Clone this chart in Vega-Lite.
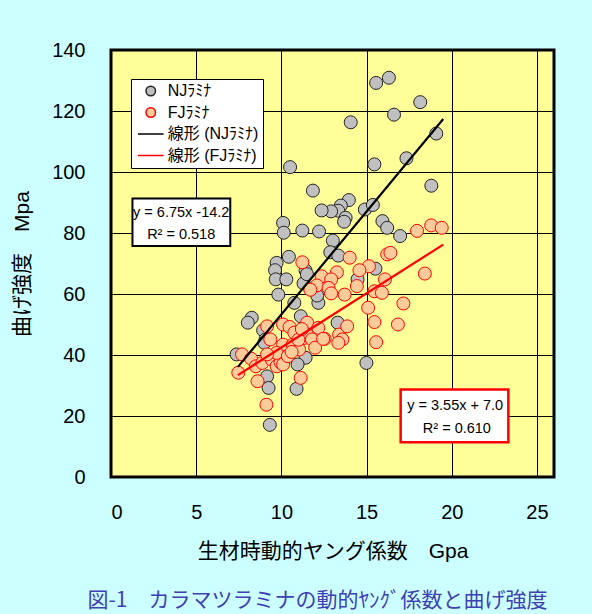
{
  "$schema": "https://vega.github.io/schema/vega-lite/v6.json",
  "width": 443,
  "height": 427,
  "autosize": "none",
  "padding": {"left": 111, "top": 50, "right": 38, "bottom": 137},
  "background": "#ccffff",
  "config": {
    "font": "Liberation Sans, Noto Sans CJK JP",
    "view": {"fill": "#ffff99", "stroke": "#000000", "strokeWidth": 3},
    "axis": {
      "grid": true, "gridColor": "#000000", "gridOpacity": 1, "gridWidth": 1,
      "domain": false, "ticks": false,
      "labelFont": "Liberation Sans", "labelFontSize": 20, "labelColor": "#000000",
      "titleFont": "Liberation Sans, Noto Sans CJK JP", "titleFontSize": 21, "titleFontWeight": "normal", "titleColor": "#000000"
    },
    "legend": {
      "orient": "none", "legendX": 20, "legendY": 29,
      "fillColor": "#ffffff", "strokeColor": "#000000", "padding": 4,
      "labelFont": "Liberation Sans, Noto Sans CJK JP", "labelFontSize": 16, "labelColor": "#000000",
      "symbolSize": 90, "symbolOffset": 7.75, "labelOffset": 9, "rowPadding": 5.5
    }
  },
  "title": {
    "text": "図-1　カラマツラミナの動的ﾔﾝｸﾞ係数と曲げ強度",
    "orient": "bottom", "anchor": "middle", "fontSize": 21, "fontWeight": "normal",
    "font": "Noto Sans CJK JP", "color": "#4040b4", "offset": 29, "dx": -15
  },
  "layer": [
    {
      "data": {"values": [
        {"series":"NJﾗﾐﾅ","x":15.56,"y":129.2},{"series":"NJﾗﾐﾅ","x":16.31,"y":130.9},{"series":"NJﾗﾐﾅ","x":18.15,"y":122.9},
        {"series":"NJﾗﾐﾅ","x":16.61,"y":118.8},{"series":"NJﾗﾐﾅ","x":14.07,"y":116.3},{"series":"NJﾗﾐﾅ","x":19.09,"y":112.6},
        {"series":"NJﾗﾐﾅ","x":10.51,"y":101.6},{"series":"NJﾗﾐﾅ","x":15.46,"y":102.5},{"series":"NJﾗﾐﾅ","x":17.34,"y":104.5},
        {"series":"NJﾗﾐﾅ","x":18.8,"y":95.5},{"series":"NJﾗﾐﾅ","x":11.85,"y":93.9},{"series":"NJﾗﾐﾅ","x":13.96,"y":90.8},
        {"series":"NJﾗﾐﾅ","x":13.49,"y":89.0},{"series":"NJﾗﾐﾅ","x":13.34,"y":87.3},{"series":"NJﾗﾐﾅ","x":12.92,"y":87.1},
        {"series":"NJﾗﾐﾅ","x":12.36,"y":87.4},{"series":"NJﾗﾐﾅ","x":13.77,"y":85.0},{"series":"NJﾗﾐﾅ","x":13.68,"y":83.7},
        {"series":"NJﾗﾐﾅ","x":14.9,"y":87.7},{"series":"NJﾗﾐﾅ","x":15.37,"y":89.2},{"series":"NJﾗﾐﾅ","x":10.1,"y":83.3},
        {"series":"NJﾗﾐﾅ","x":10.14,"y":80.1},{"series":"NJﾗﾐﾅ","x":11.23,"y":80.8},{"series":"NJﾗﾐﾅ","x":12.21,"y":80.5},
        {"series":"NJﾗﾐﾅ","x":13.02,"y":77.5},{"series":"NJﾗﾐﾅ","x":12.87,"y":73.7},{"series":"NJﾗﾐﾅ","x":13.34,"y":72.6},
        {"series":"NJﾗﾐﾅ","x":10.44,"y":72.2},{"series":"NJﾗﾐﾅ","x":9.72,"y":70.2},{"series":"NJﾗﾐﾅ","x":9.63,"y":67.8},
        {"series":"NJﾗﾐﾅ","x":11.42,"y":67.7},{"series":"NJﾗﾐﾅ","x":9.67,"y":64.8},{"series":"NJﾗﾐﾅ","x":10.29,"y":64.8},
        {"series":"NJﾗﾐﾅ","x":9.82,"y":59.8},{"series":"NJﾗﾐﾅ","x":14.47,"y":64.8},{"series":"NJﾗﾐﾅ","x":15.52,"y":68.3},
        {"series":"NJﾗﾐﾅ","x":15.93,"y":83.9},{"series":"NJﾗﾐﾅ","x":16.21,"y":81.7},{"series":"NJﾗﾐﾅ","x":16.97,"y":79.0},
        {"series":"NJﾗﾐﾅ","x":10.76,"y":57.1},{"series":"NJﾗﾐﾅ","x":12.17,"y":57.1},{"series":"NJﾗﾐﾅ","x":12.1,"y":59.5},
        {"series":"NJﾗﾐﾅ","x":8.26,"y":52.2},{"series":"NJﾗﾐﾅ","x":8.03,"y":50.6},{"series":"NJﾗﾐﾅ","x":8.93,"y":48.1},
        {"series":"NJﾗﾐﾅ","x":11.14,"y":52.7},{"series":"NJﾗﾐﾅ","x":13.3,"y":50.6},{"series":"NJﾗﾐﾅ","x":9.07,"y":45.1},
        {"series":"NJﾗﾐﾅ","x":9.0,"y":44.0},{"series":"NJﾗﾐﾅ","x":7.37,"y":40.2},{"series":"NJﾗﾐﾅ","x":11.42,"y":39.1},
        {"series":"NJﾗﾐﾅ","x":10.95,"y":36.9},{"series":"NJﾗﾐﾅ","x":9.16,"y":33.0},{"series":"NJﾗﾐﾅ","x":9.25,"y":29.2},
        {"series":"NJﾗﾐﾅ","x":10.89,"y":28.9},{"series":"NJﾗﾐﾅ","x":14.99,"y":37.4},{"series":"NJﾗﾐﾅ","x":9.32,"y":17.1},
        {"series":"NJﾗﾐﾅ","x":11.3,"y":63.5},{"series":"NJﾗﾐﾅ","x":11.5,"y":66.5},
        {"series":"FJﾗﾐﾅ","x":7.47,"y":34.2},{"series":"FJﾗﾐﾅ","x":7.69,"y":40.2},{"series":"FJﾗﾐﾅ","x":8.22,"y":38.8},
        {"series":"FJﾗﾐﾅ","x":8.6,"y":31.4},{"series":"FJﾗﾐﾅ","x":8.5,"y":36.3},{"series":"FJﾗﾐﾅ","x":8.88,"y":37.4},
        {"series":"FJﾗﾐﾅ","x":9.16,"y":49.4},{"series":"FJﾗﾐﾅ","x":9.35,"y":45.1},{"series":"FJﾗﾐﾅ","x":9.44,"y":38.5},
        {"series":"FJﾗﾐﾅ","x":9.72,"y":36.3},{"series":"FJﾗﾐﾅ","x":9.95,"y":37.6},{"series":"FJﾗﾐﾅ","x":10.1,"y":36.9},
        {"series":"FJﾗﾐﾅ","x":10.1,"y":43.4},{"series":"FJﾗﾐﾅ","x":10.1,"y":50.0},{"series":"FJﾗﾐﾅ","x":10.48,"y":49.2},
        {"series":"FJﾗﾐﾅ","x":10.67,"y":43.4},{"series":"FJﾗﾐﾅ","x":10.76,"y":47.3},{"series":"FJﾗﾐﾅ","x":11.04,"y":41.8},
        {"series":"FJﾗﾐﾅ","x":11.13,"y":32.5},{"series":"FJﾗﾐﾅ","x":11.33,"y":45.6},{"series":"FJﾗﾐﾅ","x":11.51,"y":50.6},
        {"series":"FJﾗﾐﾅ","x":11.51,"y":46.7},{"series":"FJﾗﾐﾅ","x":11.79,"y":45.1},{"series":"FJﾗﾐﾅ","x":11.98,"y":42.4},
        {"series":"FJﾗﾐﾅ","x":12.17,"y":48.9},{"series":"FJﾗﾐﾅ","x":12.54,"y":45.3},{"series":"FJﾗﾐﾅ","x":13.39,"y":46.7},
        {"series":"FJﾗﾐﾅ","x":13.58,"y":45.1},{"series":"FJﾗﾐﾅ","x":13.34,"y":44.0},{"series":"FJﾗﾐﾅ","x":13.86,"y":49.4},
        {"series":"FJﾗﾐﾅ","x":9.72,"y":40.7},{"series":"FJﾗﾐﾅ","x":10.38,"y":39.6},{"series":"FJﾗﾐﾅ","x":9.16,"y":40.2},
        {"series":"FJﾗﾐﾅ","x":15.09,"y":55.5},{"series":"FJﾗﾐﾅ","x":15.46,"y":50.8},{"series":"FJﾗﾐﾅ","x":15.56,"y":44.2},
        {"series":"FJﾗﾐﾅ","x":16.84,"y":50.0},{"series":"FJﾗﾐﾅ","x":17.16,"y":56.9},{"series":"FJﾗﾐﾅ","x":9.12,"y":23.7},
        {"series":"FJﾗﾐﾅ","x":11.23,"y":70.4},{"series":"FJﾗﾐﾅ","x":14.01,"y":71.9},{"series":"FJﾗﾐﾅ","x":15.14,"y":69.1},
        {"series":"FJﾗﾐﾅ","x":14.58,"y":67.8},{"series":"FJﾗﾐﾅ","x":13.26,"y":67.1},{"series":"FJﾗﾐﾅ","x":12.36,"y":65.8},
        {"series":"FJﾗﾐﾅ","x":12.92,"y":64.8},{"series":"FJﾗﾐﾅ","x":12.08,"y":62.8},{"series":"FJﾗﾐﾅ","x":12.77,"y":62.0},
        {"series":"FJﾗﾐﾅ","x":14.43,"y":62.6},{"series":"FJﾗﾐﾅ","x":16.08,"y":64.8},{"series":"FJﾗﾐﾅ","x":16.21,"y":73.0},
        {"series":"FJﾗﾐﾅ","x":16.4,"y":73.5},{"series":"FJﾗﾐﾅ","x":13.71,"y":59.8},{"series":"FJﾗﾐﾅ","x":12.92,"y":60.2},
        {"series":"FJﾗﾐﾅ","x":15.46,"y":60.9},{"series":"FJﾗﾐﾅ","x":15.9,"y":60.4},{"series":"FJﾗﾐﾅ","x":17.96,"y":80.7},
        {"series":"FJﾗﾐﾅ","x":18.79,"y":82.5},{"series":"FJﾗﾐﾅ","x":19.41,"y":81.7},{"series":"FJﾗﾐﾅ","x":18.42,"y":66.7},
        {"series":"FJﾗﾐﾅ","x":11.7,"y":61.4},{"series":"FJﾗﾐﾅ","x":11.0,"y":45.0},{"series":"FJﾗﾐﾅ","x":10.6,"y":41.0},
        {"series":"FJﾗﾐﾅ","x":11.2,"y":48.5},{"series":"FJﾗﾐﾅ","x":12.45,"y":45.3}
      ]},
      "mark": {"type": "point", "filled": true, "opacity": 1, "size": 169, "strokeWidth": 1},
      "encoding": {
        "x": {"field": "x", "type": "quantitative", "scale": {"domain": [0, 25]},
              "axis": {"values": [0, 5, 10, 15, 20, 25], "title": "生材時動的ヤング係数　Gpa", "labelPadding": 25, "titlePadding": 18}},
        "y": {"field": "y", "type": "quantitative", "scale": {"domain": [0, 140]},
              "axis": {"values": [0, 20, 40, 60, 80, 100, 120, 140], "title": "曲げ強度　Mpa", "labelPadding": 26, "titlePadding": 19}},
        "fill": {"field": "series", "type": "nominal",
                 "scale": {"domain": ["NJﾗﾐﾅ", "FJﾗﾐﾅ", "線形 (NJﾗﾐﾅ)", "線形 (FJﾗﾐﾅ)"], "range": ["#c0c0c0", "#ffcc99", "transparent", "transparent"]},
                 "legend": {"title": null, "encode": {"symbols": {"update": {"strokeWidth": {"signal": "indexof(datum.value, '線形') >= 0 ? 2.5 : 1"}}}}}},
        "stroke": {"field": "series", "type": "nominal",
                 "scale": {"domain": ["NJﾗﾐﾅ", "FJﾗﾐﾅ", "線形 (NJﾗﾐﾅ)", "線形 (FJﾗﾐﾅ)"], "range": ["#222222", "#ff0000", "#000000", "#ff0000"]},
                 "legend": {"title": null}},
        "shape": {"field": "series", "type": "nominal",
                 "scale": {"domain": ["NJﾗﾐﾅ", "FJﾗﾐﾅ", "線形 (NJﾗﾐﾅ)", "線形 (FJﾗﾐﾅ)"], "range": ["circle", "circle", "M-2.7,0L2.7,0", "M-2.7,0L2.7,0"]},
                 "legend": {"title": null}}
      }
    },
    {
      "data": {"values": [
        {"series": "線形 (NJﾗﾐﾅ)", "x": 7.45, "y": 36.1},
        {"series": "線形 (NJﾗﾐﾅ)", "x": 19.5, "y": 117.4},
        {"series": "線形 (FJﾗﾐﾅ)", "x": 7.45, "y": 33.4},
        {"series": "線形 (FJﾗﾐﾅ)", "x": 19.5, "y": 76.2}
      ]},
      "mark": {"type": "line", "strokeWidth": 2.2},
      "encoding": {
        "x": {"field": "x", "type": "quantitative"},
        "y": {"field": "y", "type": "quantitative"},
        "stroke": {"field": "series", "type": "nominal"}
      }
    },
    {
      "data": {"values": [{"x1": 1.26, "x2": 7.0, "y1": 91.3, "y2": 75.7}]},
      "mark": {"type": "rect", "fill": "#ffffff", "stroke": "#000000", "strokeWidth": 2},
      "encoding": {
        "x": {"field": "x1", "type": "quantitative"},
        "x2": {"field": "x2"},
        "y": {"field": "y1", "type": "quantitative"},
        "y2": {"field": "y2"}
      }
    },
    {
      "data": {"values": [{"x1": 17.0, "x2": 23.32, "y1": 28.7, "y2": 11.4}]},
      "mark": {"type": "rect", "fill": "#ffffff", "stroke": "#ff0000", "strokeWidth": 2.5},
      "encoding": {
        "x": {"field": "x1", "type": "quantitative"},
        "x2": {"field": "x2"},
        "y": {"field": "y1", "type": "quantitative"},
        "y2": {"field": "y2"}
      }
    },
    {
      "data": {"values": [
        {"x": 4.12, "y": 86.6, "label": "y = 6.75x -14.2"},
        {"x": 4.12, "y": 79.5, "label": "R² = 0.518"},
        {"x": 20.2, "y": 23.2, "label": "y = 3.55x + 7.0"},
        {"x": 20.3, "y": 15.6, "label": "R² = 0.610"}
      ]},
      "mark": {"type": "text", "font": "Liberation Sans", "fontSize": 14.5, "color": "#000000", "align": "center", "baseline": "middle"},
      "encoding": {
        "x": {"field": "x", "type": "quantitative"},
        "y": {"field": "y", "type": "quantitative"},
        "text": {"field": "label"}
      }
    }
  ]
}
